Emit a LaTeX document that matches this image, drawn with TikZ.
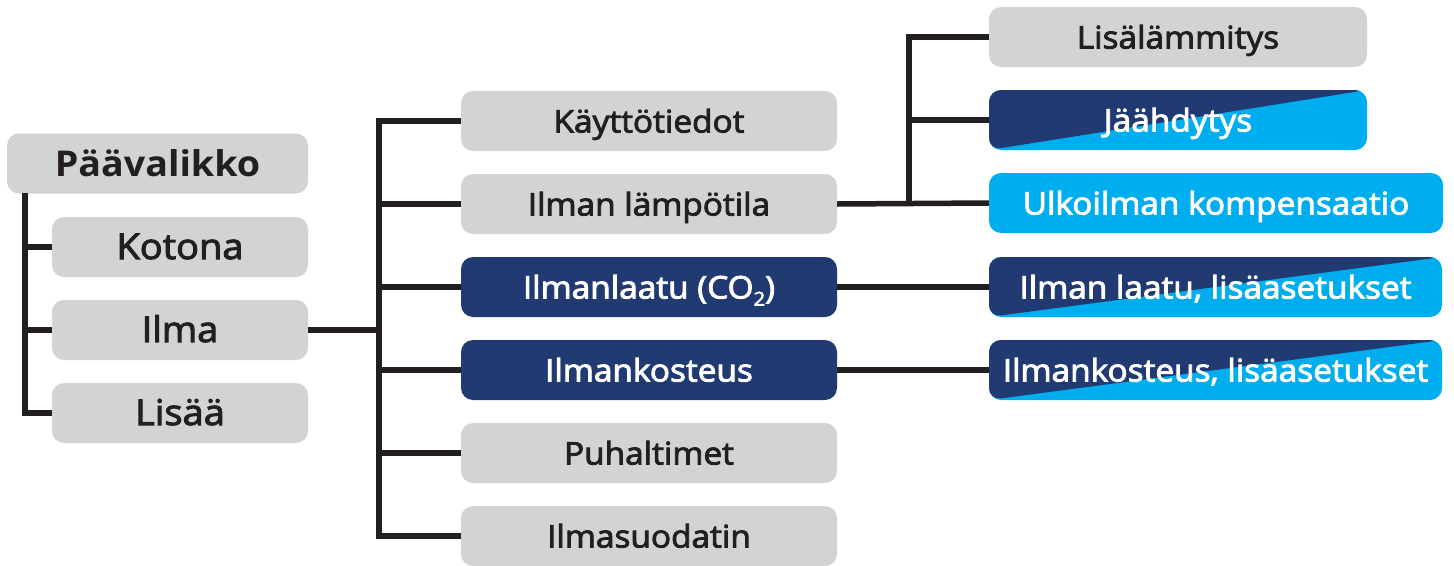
\documentclass[tikz,border=0pt]{standalone}
\usepackage{fontspec}
\setmainfont{Open Sans}
\newfontfamily\sbfont[FakeBold=2.8,FakeStretch=1.07]{Open Sans}
\newfontfamily\bdfont[FakeStretch=1.06]{Open Sans Bold}
\definecolor{boxgray}{HTML}{D1D3D4}
\definecolor{navy}{HTML}{213A72}
\definecolor{skyb}{HTML}{00AEEF}
\definecolor{ink}{HTML}{231F20}
\tikzset{
  conn/.style={draw=ink, line width=5.5pt},
  menubox/.style={rounded corners=12pt, minimum height=60pt, inner sep=0pt, text depth=0pt},
  bigbox/.style={menubox, fill=boxgray, text=ink, minimum width=256pt, text height=24pt, font=\sbfont\fontsize{35.5}{38}\selectfont},
  midbox/.style={menubox, minimum width=376pt, text height=23pt, font=\sbfont\fontsize{31.2}{34}\selectfont},
  rightbox/.style={menubox, text height=23pt, font=\sbfont\fontsize{31.2}{34}\selectfont},
  graybox/.style={fill=boxgray, text=ink},
  navybox/.style={fill=navy, text=white},
  bluebox/.style={fill=skyb, text=white},
  splitbox/.style={fill=skyb, text=white, path picture={
      \fill[navy] (path picture bounding box.south west) -- (path picture bounding box.north west) -- (path picture bounding box.north east) -- cycle;}},
}
\begin{document}
\begin{tikzpicture}[x=1pt, y=-1pt]
\useasboundingbox (0,0) rectangle (1454,565);
% left column
\node[bigbox, minimum width=301pt, text height=26pt, font=\bdfont\fontsize{35.5}{38}\selectfont] (pv) at (157.5,163.5) {Päävalikko};
\node[bigbox] (kotona) at (180,247) {Kotona};
\node[bigbox] (ilma) at (180,330) {Ilma};
\node[bigbox] (lisaa) at (180,413) {Lisää};
% middle column
\node[midbox, graybox] (kt) at (649,121) {Käyttötiedot};
\node[midbox, graybox] (ilt) at (649,204) {Ilman lämpötila};
\node[midbox, navybox] (ill) at (649,287) {Ilmanlaatu (CO\raisebox{-7pt}{\fontsize{19}{19}\selectfont 2})};
\node[midbox, navybox] (ilk) at (649,370) {Ilmankosteus};
\node[midbox, graybox] (puh) at (649,453) {Puhaltimet};
\node[midbox, graybox] (isu) at (649,536) {Ilmasuodatin};
% right column
\node[rightbox, graybox, minimum width=378pt] (lisl) at (1178,37) {Lisälämmitys};
\node[rightbox, splitbox, minimum width=378pt] (jaa) at (1178,120) {Jäähdytys};
\node[rightbox, bluebox, minimum width=454pt] (ulk) at (1216,203) {Ulkoilman kompensaatio};
\node[rightbox, splitbox, minimum width=453pt] (ila) at (1215.5,287) {Ilman laatu, lisäasetukset};
\node[rightbox, splitbox, minimum width=453pt] (ika) at (1215.5,370) {Ilmankosteus, lisäasetukset};
% bus coordinates
\coordinate (b1top) at (25,193);
\coordinate (b2) at (379,330);
\coordinate (b3) at (909,203);
% left connectors
\draw[conn] (b1top) |- (lisaa.west);
\draw[conn] (kotona.west) -- (kotona.west -| b1top);
\draw[conn] (ilma.west) -- (ilma.west -| b1top);
% middle connectors
\draw[conn] (ilma.east) -- (b2);
\draw[conn] (kt.west) -| (b2) |- (isu.west);
\draw[conn] (ilt.west) -- (ilt.west -| b2);
\draw[conn] (ill.west) -- (ill.west -| b2);
\draw[conn] (ilk.west) -- (ilk.west -| b2);
\draw[conn] (puh.west) -- (puh.west -| b2);
% right connectors
\draw[conn] (ilt.east) -- (ulk.west);
\draw[conn] (lisl.west) -| (b3);
\draw[conn] (jaa.west) -- (jaa.west -| b3);
\draw[conn] (ill.east) -- (ila.west);
\draw[conn] (ilk.east) -- (ika.west);
\end{tikzpicture}
\end{document}
